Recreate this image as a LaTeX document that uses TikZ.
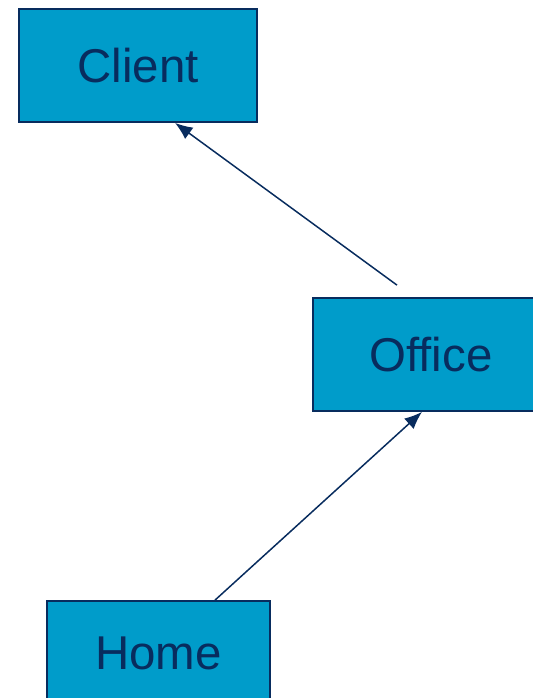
\documentclass[tikz,border=0pt]{standalone}
\usepackage{fontspec}
\setmainfont{Liberation Sans}
\usepackage{tikz}
\usetikzlibrary{arrows.meta,positioning}

\definecolor{boxfill}{RGB}{0,156,202}
\definecolor{navy}{RGB}{8,44,94}

\begin{document}
\begin{tikzpicture}[
    block/.style={
        draw=navy,
        fill=boxfill,
        line width=1pt,
        rectangle,
        minimum width=4.46cm,
        minimum height=2.26cm,
        text=navy,
        font=\fontsize{27}{31}\selectfont
    },
    arrow/.style={
        -{Latex[length=10pt,width=8pt]},
        line width=0.85pt,
        navy
    }
]

\useasboundingbox (0,0) rectangle (10.66,-13.96);
\clip (0,0) rectangle (10.66,-13.96);

% Top: client
\node[block, minimum width=4.76cm] at (2.76,-1.31)  (client) {Client};

% Middle: office (runs past the right edge)
\node[block, minimum width=4.72cm] at (8.62,-7.09)  (office) {Office};

% Bottom: home (cut by the page)
\node[block, minimum height=2.08cm] at (3.17,-13.06) (home)   {Home};

% Arrows
\draw[arrow] ([shift={(-0.68,0.24)}]office.north) -- ([xshift=0.74cm]client.south);
\draw[arrow] ([xshift=1.13cm]home.north) -- ([xshift=-0.18cm]office.south);

\end{tikzpicture}
\end{document}
